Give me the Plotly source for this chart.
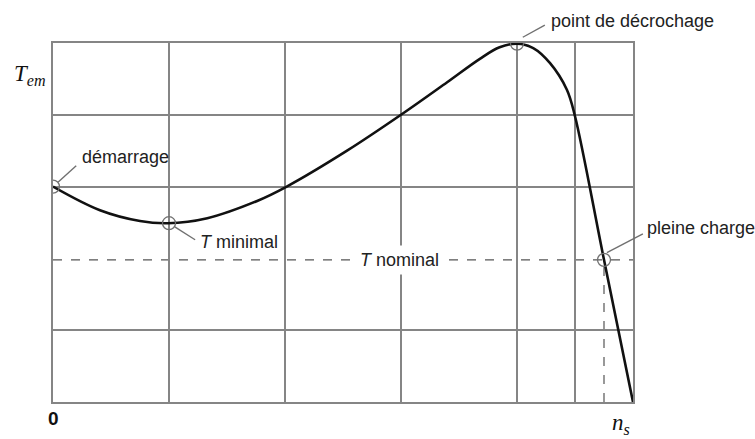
import plotly.graph_objects as go

# Torque-speed characteristic of an induction motor (speed normalised to n_s = 1)
speed = [0.0, 0.081, 0.15, 0.198, 0.266, 0.352, 0.403, 0.507, 0.60, 0.679, 0.736,
         0.77, 0.80, 0.828, 0.857, 0.886, 0.90, 0.95, 1.0]
torque = [3.0, 2.67, 2.52, 2.49, 2.56, 2.80, 3.0, 3.50, 4.0, 4.45, 4.78,
          4.94, 4.99, 4.93, 4.72, 4.35, 3.98, 1.98, 0.0]

# Remarkable points on the curve
key_speed = [0.0, 0.2, 0.8, 0.95]
key_torque = [3.0, 2.49, 4.99, 1.98]
t_nominal = 1.98
n_full_load = 0.95

x_grid = [0.2, 0.4, 0.6, 0.8, 0.9]
y_grid = [1, 3, 4]

GRID = "#858585"
LBL = dict(family="Liberation Sans, Arial, sans-serif", size=18, color="#222222")
SERIF = dict(family="Liberation Serif, Times New Roman, serif", size=23, color="#111111")

fig = go.Figure()

fig.add_trace(go.Scatter(
    x=speed, y=torque, mode="lines",
    line=dict(color="#111111", width=2.6, shape="spline", smoothing=1.0),
    hoverinfo="skip"))

fig.add_trace(go.Scatter(
    x=key_speed, y=key_torque, mode="markers",
    marker=dict(symbol="circle-open", size=13, color="#707070",
                line=dict(width=1.3, color="#707070")),
    hoverinfo="skip"))

shapes = []
# nominal torque (dashed) and full-load speed (dashed)
shapes.append(dict(type="line", xref="x", yref="y", x0=0, x1=1, y0=t_nominal, y1=t_nominal,
                   line=dict(color="#555555", width=1.2, dash="dash"), layer="below"))
shapes.append(dict(type="line", xref="x", yref="y", x0=n_full_load, x1=n_full_load, y0=0, y1=t_nominal,
                   line=dict(color="#555555", width=1.2, dash="dash"), layer="below"))

# leader lines (paper coordinates)
leaders = [
    (0.0086, 3.06, 0.040, 3.29),
    (0.210, 2.44, 0.245, 2.26),
    (0.810, 5.08, 0.848, 5.25),
    (0.955, 2.08, 1.017, 2.34),
]
for x0, y0, x1, y1 in leaders:
    shapes.append(dict(type="line", xref="paper", yref="paper",
                       x0=x0, y0=y0 / 5, x1=x1, y1=y1 / 5,
                       line=dict(color="#707070", width=1.4)))

annotations = [
    dict(text="démarrage", x=0.046, y=3.41 / 5, xanchor="left"),
    dict(text="<i>T</i> minimal", x=0.250, y=2.23 / 5, xanchor="left"),
    dict(text="<i>T</i> nominal", x=0.598, y=t_nominal / 5, xanchor="center",
         bgcolor="white", borderpad=4),
    dict(text="point de décrochage", x=0.855, y=5.31 / 5, xanchor="left"),
    dict(text="pleine charge", x=1.020, y=2.42 / 5, xanchor="left"),
]
for a in annotations:
    a.update(xref="paper", yref="paper", showarrow=False, yanchor="middle", font=LBL)

annotations += [
    dict(text="<i>T</i><sub><i>em</i></sub>", x=-0.040, y=0.912, xanchor="center", font=SERIF),
    dict(text="<b>0</b>", x=0.0, y=-0.047, xanchor="center",
         font=dict(family="Liberation Sans, Arial, sans-serif", size=19, color="#111111")),
    dict(text="<i>n</i><sub><i>s</i></sub>", x=0.980, y=-0.062, xanchor="center", font=SERIF),
]
for a in annotations[-3:]:
    a.update(xref="paper", yref="paper", showarrow=False, yanchor="middle")

fig.update_layout(
    width=755, height=439,
    margin=dict(l=53, r=122, t=43, b=37),
    paper_bgcolor="white", plot_bgcolor="white",
    showlegend=False,
    shapes=shapes,
    annotations=annotations,
)
fig.update_xaxes(range=[0, 1], tickvals=x_grid, showticklabels=False, ticks="",
                 showgrid=True, gridcolor=GRID, gridwidth=1.5, zeroline=False,
                 showline=True, mirror=True, linecolor=GRID, linewidth=1.5)
fig.update_yaxes(range=[0, 5], tickvals=y_grid, showticklabels=False, ticks="",
                 showgrid=True, gridcolor=GRID, gridwidth=1.5, zeroline=False,
                 showline=True, mirror=True, linecolor=GRID, linewidth=1.5)

fig.write_html("out.html")
